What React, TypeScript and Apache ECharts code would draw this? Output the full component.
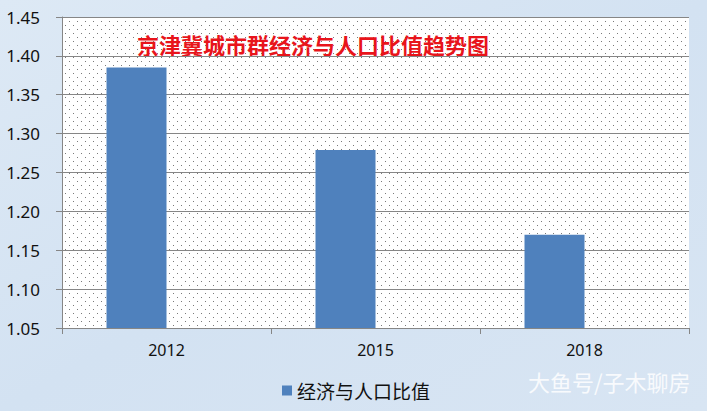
import React, { useEffect, useRef } from "react";
import * as echarts from "echarts";

const categories = ["2012", "2015", "2018"];
const ratioValues = [1.385, 1.279, 1.17];
const emptyValues = [null, null, null];
const seriesName = "经济与人口比值";
const titleText = "京津冀城市群经济与人口比值趋势图";
const watermark = "大鱼号/子木聊房";

function makeDots(): HTMLCanvasElement {
  const c = document.createElement("canvas");
  c.width = 8;
  c.height = 8;
  const ctx = c.getContext("2d")!;
  ctx.fillStyle = "#ffffff";
  ctx.fillRect(0, 0, 8, 8);
  ctx.fillStyle = "#7a7a7a";
  ctx.fillRect(1, 1, 1, 1);
  ctx.fillRect(5, 5, 1, 1);
  return c;
}

export default function App() {
  const ref = useRef<HTMLDivElement>(null);
  useEffect(() => {
    const chart = echarts.init(ref.current!, undefined, { renderer: "svg" });
    chart.setOption({
      animation: false,
      backgroundColor: {
        type: "linear",
        x: 0,
        y: 0,
        x2: 1,
        y2: 1,
        colorStops: [
          { offset: 0, color: "#dde9f5" },
          { offset: 0.5, color: "#d3e2f2" },
          { offset: 1, color: "#d8e5f3" },
        ],
      },
      grid: {
        left: 62,
        right: 18,
        top: 17,
        bottom: 83,
        show: true,
        borderWidth: 0,
        backgroundColor: { image: makeDots(), repeat: "repeat" },
      },
      graphic: [
        {
          type: "text",
          left: 137,
          top: 33,
          style: {
            text: titleText,
            fill: "#e8141b",
            font: "bold 22px 'Noto Sans CJK SC'",
          },
        },
        {
          type: "text",
          left: 528,
          top: 370,
          style: {
            text: watermark,
            fill: "rgba(255,255,255,0.85)",
            font: "22px 'Noto Sans CJK SC'",
          },
        },
      ],
      legend: {
        bottom: 6,
        left: 277,
        itemWidth: 10,
        itemHeight: 10,
        itemGap: 4,
        icon: "rect",
        textStyle: {
          fontFamily: "'Noto Sans CJK SC'",
          fontSize: 19,
          color: "#111",
        },
        data: [seriesName],
      },
      xAxis: {
        type: "category",
        data: categories,
        axisLine: { lineStyle: { color: "#868686" } },
        axisTick: { show: true, length: 6, lineStyle: { color: "#868686" } },
        axisLabel: {
          color: "#111",
          fontSize: 16,
          fontFamily: "'Noto Sans'",
          margin: 14,
        },
      },
      yAxis: {
        type: "value",
        min: 1.05,
        max: 1.45,
        interval: 0.05,
        axisLine: { show: true, lineStyle: { color: "#868686" } },
        axisTick: { show: true, length: 6, lineStyle: { color: "#868686" } },
        splitLine: { lineStyle: { color: "#868686" } },
        axisLabel: {
          color: "#111",
          fontSize: 17,
          fontFamily: "'Noto Sans'",
          margin: 22,
          formatter: (v: number) => v.toFixed(2),
        },
      },
      series: [
        {
          name: seriesName,
          type: "bar",
          data: ratioValues,
          barWidth: 60,
          barGap: 0,
          itemStyle: { color: "#4f81bd" },
        },
        {
          name: "_empty",
          type: "bar",
          data: emptyValues,
          barWidth: 60,
          barGap: 0,
          itemStyle: { color: "transparent" },
        },
      ],
    });
    return () => chart.dispose();
  }, []);
  return (
    <div
      ref={ref}
      style={{ position: "fixed", left: 0, top: 0, width: 707, height: 411 }}
    />
  );
}
